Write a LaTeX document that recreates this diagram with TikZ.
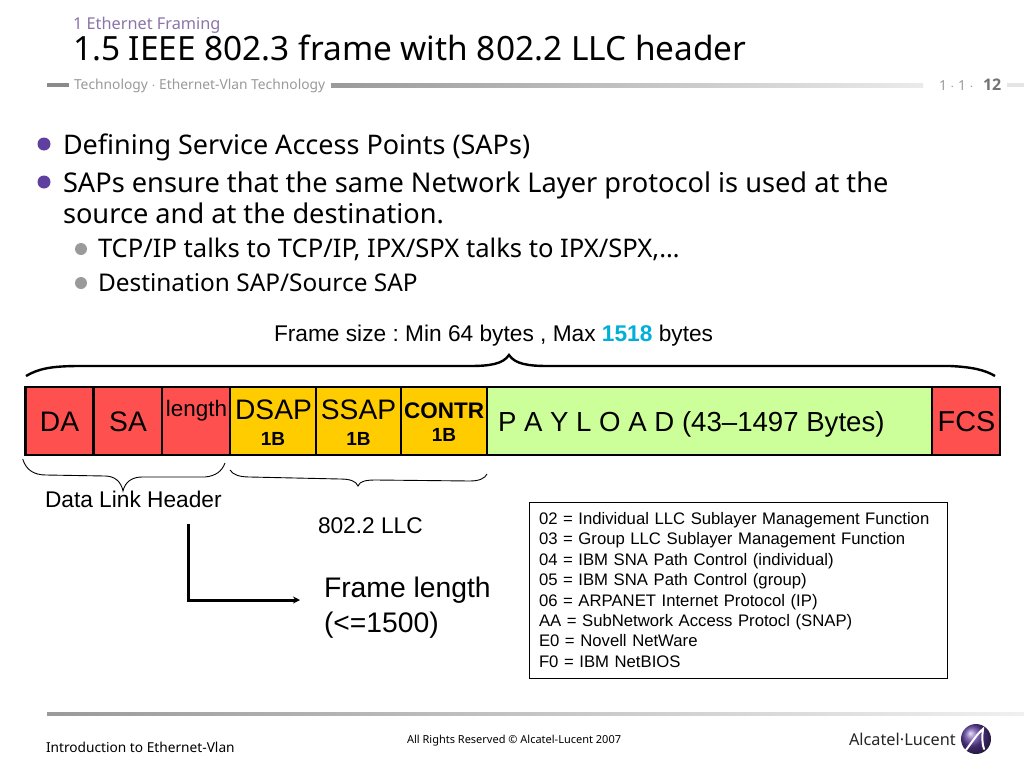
\documentclass[tikz,border=0pt]{standalone}
\usepackage{fontspec}
\setmainfont{Liberation Sans}
\newfontfamily\slidefont{Noto Sans}
\newfontfamily\pagefont{Open Sans}
\usepackage{xcolor}
\usetikzlibrary{arrows.meta, positioning, calc}
\definecolor{frred}{HTML}{FF5050}
\definecolor{frorange}{HTML}{FFCC00}
\definecolor{frgreen}{HTML}{CCFF99}
\definecolor{frcyan}{HTML}{00B0D8}
\definecolor{frpurple}{HTML}{5F3F9F}
\definecolor{frlilac}{HTML}{8A74A8}
\definecolor{frgrey}{HTML}{9A9A9A}
\newcommand{\pxsize}[1]{\fontsize{#1}{#1}\selectfont}

\begin{document}
\frenchspacing
\begin{tikzpicture}[
  x=1pt, y=-1pt,
  every node/.style={inner sep=0pt, outer sep=0pt},
  slidetext/.style={anchor=base west, font=\slidefont\pxsize{27.2}, text=black},
  subtext/.style={anchor=base west, font=\slidefont\pxsize{24.4}, text=black},
  headtext/.style={anchor=base west, font=\slidefont\pxsize{13.8}, text=frgrey},
  mainbullet/.style={circle, fill=frpurple, minimum size=13pt},
  subbullet/.style={circle, fill=frgrey, minimum size=12pt},
  redbox/.style={draw=black, line width=2.8pt, fill=frred, minimum height=68pt},
  orangebox/.style={draw=black, line width=2.8pt, fill=frorange, minimum height=68pt},
  greenbox/.style={draw=black, line width=2.8pt, fill=frgreen, minimum height=68pt},
  boxlabel/.style={anchor=base, font=\pxsize{28.2}},
  sizelabel/.style={anchor=base, font=\bfseries\pxsize{19}},
  plainlabel/.style={anchor=base west, font=\pxsize{22.7}},
  bracket/.style={draw=black, line width=0.9pt},
]
\useasboundingbox (0,0) rectangle (1024,768);
\fill[white] (0,0) rectangle (1024,768);

% header
\node[anchor=base west, font=\slidefont\pxsize{16.3}, text=frlilac] (section) at (73,29.5) {1 Ethernet Framing};
\node[anchor=base west, font=\slidefont\pxsize{33.4}] (title) at (73,60) {1.5 IEEE 802.3 frame with 802.2 LLC header};
\fill[frgrey!90!black] (47,83) rectangle (69,87);
\node[headtext] (tech) at (74,89) {Technology $\cdot$ Ethernet-Vlan Technology};
\shade[left color=frgrey, right color=black!8] (331,83) rectangle (923,87);
\node[headtext] (pageno) at (939,90) {1 $\cdot$ 1 $\cdot$};
\node[anchor=base west, font=\pagefont\bfseries\pxsize{16}, text=black!55] (pagebold) at (983,90) {12};
\fill[black!10] (1007,83) rectangle (1024,87);

% bullets
\node[mainbullet] (b1) at (44,144) {};
\node[slidetext, font=\slidefont\pxsize{27}] (t1) at (63,154) {Defining Service Access Points (SAPs)};
\node[mainbullet] (b2) at (44,182) {};
\node[slidetext] (t2) at (63,192) {SAPs ensure that the same Network Layer protocol is used at the};
\node[slidetext] (t3) at (63,223) {source and at the destination.};
\node[subbullet] (b3) at (81,249) {};
\node[subtext, font=\slidefont\pxsize{25.6}] (t4) at (98,257) {TCP/IP talks to TCP/IP, IPX/SPX talks to IPX/SPX,…};
\node[subbullet] (b4) at (81,283) {};
\node[subtext] (t5) at (98,291) {Destination SAP/Source SAP};

% frame
\node[plainlabel] (framesize) at (274,341) {Frame size : Min 64 bytes , Max \textcolor{frcyan}{\textbf{1518}} bytes};
\draw[black, line width=2.4pt] (26,376) .. controls (38,369) and (50,366) .. (80,366)
  -- (470,366) .. controls (490,366) and (503,364) .. (509,355)
  .. controls (515,364) and (528,366) .. (548,366) -- (950,366) .. controls (972,367) and (985,370) .. (995,376);

\node[redbox, minimum width=68.5pt] (da) at (59.5,421) {};
\node[redbox, minimum width=68.5pt] (sa) at (128,421) {};
\node[redbox, minimum width=68pt] (len) at (196,421) {};
\node[orangebox, minimum width=86pt] (dsap) at (273,421) {};
\node[orangebox, minimum width=85pt] (ssap) at (358.5,421) {};
\node[orangebox, minimum width=86pt] (contr) at (444,421) {};
\node[greenbox, minimum width=445pt] (payload) at (709.5,421) {};
\node[redbox, minimum width=68pt] (fcs) at (966,421) {};

\node[boxlabel] (dalabel) at (59.5,431.5) {DA};
\node[boxlabel] (salabel) at (128,431.5) {SA};
\node[anchor=base, font=\pxsize{22.4}] (lenlabel) at (196.5,416) {length};
\node[boxlabel] (dsaplabel) at (273.5,419.5) {DSAP};
\node[sizelabel] (dsapsize) at (273,445) {1B};
\node[boxlabel] (ssaplabel) at (358.5,419.5) {SSAP};
\node[sizelabel] (ssapsize) at (358.5,445) {1B};
\node[anchor=base, font=\bfseries\pxsize{22.5}] (contrlabel) at (444,418) {CONTR};
\node[sizelabel] (contrsize) at (444,441) {1B};
\node[anchor=base west, font=\pxsize{27.6}] (payloadlabel) at (498,431.5) {P A Y L O A D (43–1497 Bytes)};
\node[boxlabel, font=\pxsize{28.8}] (fcslabel) at (966.5,431.5) {FCS};

% braces under the frame
\draw[bracket] (22.7,459) .. controls (26,470) and (34,475) .. (46,475) -- (105,476)
  .. controls (114,476) and (121,481) .. (123,491) .. controls (125,482) and (132,477) .. (142,477)
  -- (205,477) .. controls (216,476) and (222,471) .. (225,463);
\draw[bracket] (230,470) .. controls (233,475) and (240,477) .. (250,477) -- (340,479)
  .. controls (350,479) and (356,481) .. (358,486) .. controls (360,481) and (366,480) .. (376,480)
  -- (470,481) .. controls (480,481) and (485,478) .. (487,474);
\node[plainlabel] (dlh) at (45,507) {Data Link Header};
\node[plainlabel] (llc) at (318,533) {802.2 LLC};

% length arrow
\coordinate (lenstart) at (188,524);
\coordinate (lenend) at (300,600);
\draw[-{Stealth[length=7pt,width=7pt]}, line width=3pt] (lenstart) |- (lenend);
\node[anchor=base west, font=\pxsize{28.3}] (framelen) at (324,597) {Frame length};
\node[anchor=base west, font=\pxsize{28.3}] (framemax) at (324,632) {(<=1500)};

% SAP values
\node[draw=black, line width=1pt, anchor=north west, minimum width=418pt, minimum height=176pt,
  text width=398pt, align=left, font=\fontsize{16.7}{20.4}\selectfont] (saplist) at (529,502) {02 = Individual LLC Sublayer Management Function\\
03 = Group LLC Sublayer Management Function\\
04 = IBM SNA Path Control (individual)\\
05 = IBM SNA Path Control (group)\\
06 = ARPANET Internet Protocol (IP)\\
AA = SubNetwork Access Protocl (SNAP)\\
E0 = Novell NetWare\\
F0 = IBM NetBIOS};

% footer
\shade[left color=frgrey, right color=black!6] (47,712) rectangle (1024,715);
\node[anchor=base west, font=\slidefont\pxsize{13.7}] (intro) at (46,752) {Introduction to Ethernet-Vlan};
\node[anchor=base west, font=\slidefont\pxsize{11}] (rights) at (407,743) {All Rights Reserved © Alcatel-Lucent 2007};
\node[anchor=base west, font=\slidefont\pxsize{16.3}, text=black!85] (logotext) at (849,745) {Alcatel·Lucent};
\shade[ball color=frpurple] (976,739) circle (15);
\draw[white, line width=2pt, line cap=round] (966,750) .. controls (972,742) and (977,734) .. (983,729) .. controls (982,736) and (982,744) .. (984,749);
\end{tikzpicture}
\end{document}
